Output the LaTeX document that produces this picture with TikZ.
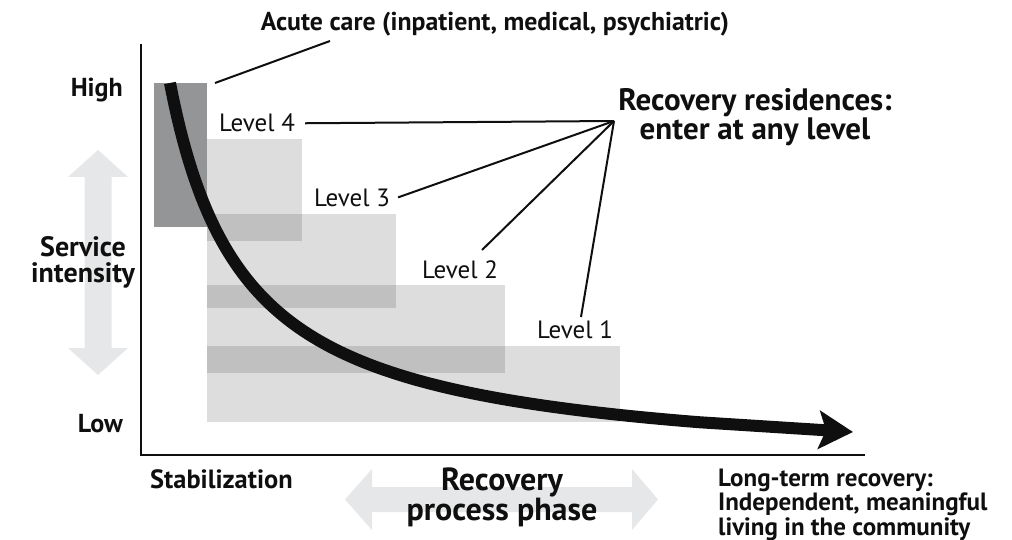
\documentclass[tikz,border=0pt]{standalone}
\usepackage{fontspec}
\setmainfont{PT Sans}
\usetikzlibrary{arrows.meta,calc}
\definecolor{darkbox}{RGB}{148,149,151}
\definecolor{arrowgray}{RGB}{230,231,232}
\definecolor{ink}{RGB}{15,15,15}
\begin{document}
\begin{tikzpicture}[x=1pt,y=-1pt,
  lvl/.style={font=\fontsize{25}{28}\selectfont, inner sep=0pt, anchor=base west, text=ink},
  txt/.style={inner sep=0pt, text=ink},
  levelbox/.style={fill=black, fill opacity=0.135},
  leader/.style={draw=ink, line width=2pt},
  axis/.style={draw=ink, line width=2.5pt},
  flow/.style={draw=ink, line width=12pt, -{Stealth[length=34pt,width=38pt,inset=7pt]}}]
\useasboundingbox (0,0) rectangle (1012,540);

% double arrows
\fill[arrowgray] (98,150) -- (128,177) -- (111.5,177) -- (111.5,348) -- (128,348) -- (98,375)
  -- (68,348) -- (84.5,348) -- (84.5,177) -- (68,177) -- cycle;
\fill[arrowgray] (345,499.5) -- (372,469) -- (372,487) -- (632,487) -- (632,469) -- (658,499.5)
  -- (632,530) -- (632,512) -- (372,512) -- (372,530) -- cycle;

% boxes
\fill[darkbox] (154,83) rectangle (207,227);
\fill[levelbox] (207,139) rectangle (302,241);
\fill[levelbox] (207,214) rectangle (396,308);
\fill[levelbox] (207,285) rectangle (505,373);
\fill[levelbox] (207,346) rectangle (620,422);

% axes
\coordinate (ytop) at (141,44);
\coordinate (orig) at (141,455);
\coordinate (xend) at (865,455);
\draw[axis] (ytop) -- (orig) -- (xend);

% flow curve
\coordinate (flowend) at (853,432);
\draw[flow] plot[domain=170:700, samples=160, smooth] (\x, {470.3 - 290.49/((\x-95)/100)}) -- (flowend);

% texts
\node[txt, font=\bfseries\fontsize{26}{26}\selectfont, anchor=base east] (high) at (123,97) {High};
\node[txt, font=\bfseries\fontsize{26}{26}\selectfont, anchor=base east] (low) at (123,432) {Low};
\node[txt, font=\bfseries\fontsize{28}{26}\selectfont, align=center, anchor=base] (svc) at (83,282) {Service\\intensity};
\node[txt, font=\bfseries\fontsize{26.4}{26}\selectfont, anchor=base west] (stab) at (150,488) {Stabilization};
\node[txt, font=\bfseries\fontsize{32}{25}\selectfont, align=center, anchor=base] (rpp) at (502,520) {Recovery\\process phase};
\node[txt, font=\bfseries\fontsize{25}{22.5}\selectfont, align=left, anchor=base west] (ltr) at (718,535) {Long-term recovery:\\Independent, meaningful\\living in the community};
\node[txt, font=\bfseries\fontsize{25.8}{26}\selectfont, anchor=base] (acute) at (495,31) {Acute care (inpatient, medical, psychiatric)};
\node[txt, font=\bfseries\fontsize{31}{25}\selectfont, align=center, anchor=base] (rr) at (755,140) {Recovery residences:\\enter at any level};

\node[lvl] (l4) at (219,132) {Level 4};
\node[lvl] (l3) at (314,207) {Level 3};
\node[lvl] (l2) at (422,278) {Level 2};
\node[lvl] (l1) at (537,338) {Level 1};

% leaders
\coordinate (hub) at (614,121);
\coordinate (acuteend) at (330,41);
\coordinate (acutebox) at (215,83);
\coordinate (l2end) at (482,250);
\coordinate (l1end) at (581,317);
\draw[leader] (acutebox) -- (acuteend);
\draw[leader] ([xshift=10pt]l4.east) -- (hub);
\draw[leader] ([xshift=8pt,yshift=1pt]l3.east) -- (hub);
\draw[leader] (l2end) -- (hub);
\draw[leader] (l1end) -- (hub);
\end{tikzpicture}
\end{document}
